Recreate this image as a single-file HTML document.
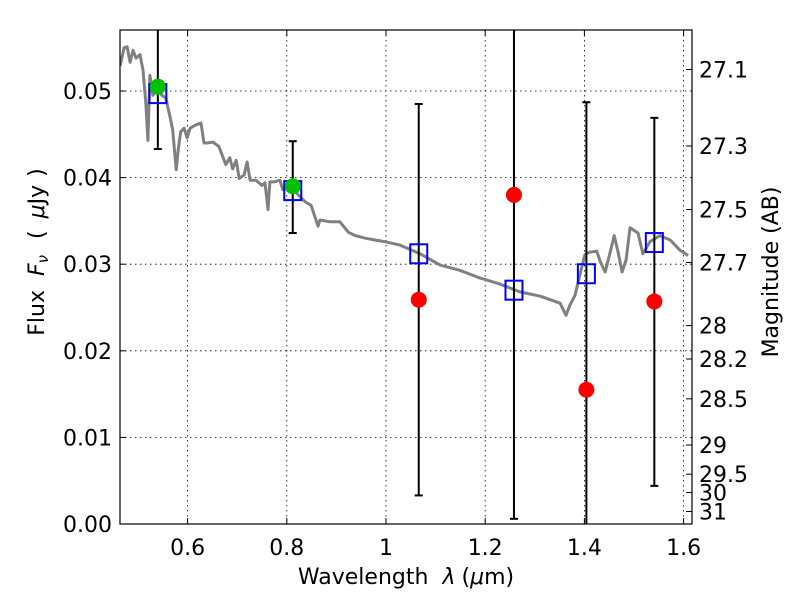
<!DOCTYPE html>
<html><head><meta charset="utf-8"><style>
html,body{margin:0;padding:0;background:#fff;}
svg{display:block;font-family:"DejaVu Sans","Liberation Sans",sans-serif;}
</style></head><body>
<svg id="chart" width="800" height="600" viewBox="0 0 800 600" xmlns="http://www.w3.org/2000/svg">
<defs><clipPath id="pc"><rect x="120" y="30" width="572" height="494"/></clipPath></defs>
<rect width="800" height="600" fill="#fff"/>
<g id="grid"></g>
<g id="spec" clip-path="url(#pc)"></g>
<g id="marks" clip-path="url(#pc)"></g>
<rect x="120" y="30" width="572" height="494" fill="none" stroke="#000" stroke-width="1.2"/>
<g id="axes"></g>
<text x="406" y="584" font-size="22" text-anchor="middle">Wavelength<tspan dx="14" font-style="italic">λ</tspan><tspan dx="6">(</tspan><tspan font-style="italic">μ</tspan>m)</text>
<text transform="translate(44,252) rotate(-90)" font-size="22" text-anchor="middle">Flux<tspan dx="14" font-style="italic">F</tspan><tspan font-style="italic" font-size="15" dy="4">ν</tspan><tspan dy="-4" dx="16">(</tspan><tspan dx="12" font-style="italic">μ</tspan>Jy<tspan dx="8">)</tspan></text>
<text transform="translate(778,272) rotate(-90)" font-size="22" text-anchor="middle">Magnitude (AB)</text>
</svg>
<script>
const xTicks=[0.6,0.8,1.0,1.2,1.4,1.6];
const xTickLabels=["0.6","0.8","1","1.2","1.4","1.6"];
const yTicks=[0,0.01,0.02,0.03,0.04,0.05];
const yTickLabels=["0.00","0.01","0.02","0.03","0.04","0.05"];
const magTicks=[27.1,27.3,27.5,27.7,28,28.2,28.5,29,29.5,30,31];
const magTickLabels=["27.1","27.3","27.5","27.7","28","28.2","28.5","29","29.5","30","31"];
const specWl=[0.464,0.472,0.478,0.484,0.490,0.496,0.504,0.510,0.516,0.520,0.524,0.530,0.540,0.548,0.556,0.565,0.570,0.577,0.581,0.586,0.593,0.599,0.605,0.617,0.627,0.633,0.639,0.651,0.663,0.677,0.685,0.691,0.698,0.704,0.714,0.720,0.726,0.738,0.750,0.756,0.762,0.766,0.774,0.786,0.792,0.806,0.823,0.837,0.849,0.863,0.867,0.887,0.907,0.924,0.938,0.958,0.978,0.998,1.028,1.069,1.109,1.149,1.190,1.230,1.270,1.311,1.351,1.363,1.371,1.381,1.391,1.401,1.411,1.425,1.432,1.442,1.452,1.460,1.468,1.476,1.484,1.492,1.508,1.518,1.532,1.552,1.573,1.593,1.609];
const specFlux=[0.0529,0.0550,0.0551,0.0533,0.0547,0.0538,0.0542,0.0524,0.0485,0.0443,0.0518,0.0495,0.0507,0.0495,0.0492,0.0469,0.0455,0.0409,0.0432,0.0453,0.0457,0.0446,0.0457,0.0461,0.0463,0.0440,0.0440,0.0441,0.0436,0.0415,0.0423,0.0410,0.0420,0.0399,0.0403,0.0418,0.0397,0.0397,0.0391,0.0394,0.0363,0.0395,0.0395,0.0397,0.0386,0.0395,0.0380,0.0372,0.0368,0.0344,0.0351,0.0349,0.0349,0.0337,0.0333,0.0330,0.0328,0.0326,0.0322,0.0312,0.0299,0.0293,0.0284,0.0277,0.0268,0.0263,0.0255,0.0241,0.0253,0.0264,0.0288,0.0311,0.0314,0.0315,0.0303,0.0291,0.0314,0.0333,0.0314,0.0291,0.0305,0.0342,0.0336,0.0312,0.0326,0.0333,0.0328,0.0316,0.0310];
const modelWl=[0.540,0.812,1.066,1.258,1.404,1.541];
const modelFlux=[0.0497,0.0385,0.0312,0.0270,0.0289,0.0325];
const obsWl=[0.540,0.812,1.066,1.258,1.404,1.541];
const obsFlux=[0.0505,0.0390,0.0259,0.0380,0.0155,0.0257];
const obsDetected=[true,true,false,false,false,false];
const errHi=[0.0620,0.0442,0.0485,0.0800,0.0487,0.0469];
const errLo=[0.0433,0.0336,0.0033,0.0006,-0.0100,0.0044];

const X=v=>187.6+(v-0.6)*496;
const Y=v=>524-v*8660;
const NS="http://www.w3.org/2000/svg";
function mk(tag,attrs,parent,txt){const e=document.createElementNS(NS,tag);for(const k in attrs)e.setAttribute(k,attrs[k]);if(txt!=null)e.textContent=txt;parent.appendChild(e);return e;}
const grid=document.getElementById('grid'),axes=document.getElementById('axes'),spec=document.getElementById('spec'),marks=document.getElementById('marks');

xTicks.forEach((t,i)=>{
  const g=mk('line',{x1:X(t),x2:X(t),y1:30,y2:524,stroke:'#000','stroke-width':0.8,'stroke-dasharray':'1.5,3.5'},grid);
  
  
  mk('line',{x1:X(t),x2:X(t),y1:524,y2:518,stroke:'#000'},axes);
  mk('line',{x1:X(t),x2:X(t),y1:30,y2:36,stroke:'#000'},axes);
  const l=mk('text',{x:X(t),y:555,'font-size':22,'text-anchor':'middle'},axes,xTickLabels[i]);
  
  
});
yTicks.forEach((t,i)=>{
  const g=mk('line',{x1:120,x2:692,y1:Y(t),y2:Y(t),stroke:'#000','stroke-width':0.8,'stroke-dasharray':'1.5,3.5'},grid);
  
  
  mk('line',{x1:120,x2:126,y1:Y(t),y2:Y(t),stroke:'#000'},axes);
  const l=mk('text',{x:112,y:Y(t)+8,'font-size':22,'text-anchor':'end'},axes,yTickLabels[i]);
  
  
});
magTicks.forEach((m,i)=>{
  const f=Math.pow(10,(23.9-m)/2.5);
  mk('line',{x1:692,x2:686,y1:Y(f),y2:Y(f),stroke:'#000'},axes);
  const l=mk('text',{x:699,y:Y(f)+8,'font-size':22},axes,magTickLabels[i]);
  
  
});
let d='';
specWl.forEach((w,i)=>{d+=(i?'L':'M')+X(w).toFixed(1)+','+Y(specFlux[i]).toFixed(1);});
mk('path',{d:d,fill:'none',stroke:'#808080','stroke-width':3,'stroke-linejoin':'round'},spec);

obsWl.forEach((w,i)=>{
  const x=X(w);
  const eb=mk('g',{},marks);
  
  
  mk('line',{x1:x,x2:x,y1:Y(errHi[i]),y2:Y(errLo[i]),stroke:'#000','stroke-width':2},eb);
  mk('line',{x1:x-4,x2:x+4,y1:Y(errHi[i]),y2:Y(errHi[i]),stroke:'#000','stroke-width':2},eb);
  mk('line',{x1:x-4,x2:x+4,y1:Y(errLo[i]),y2:Y(errLo[i]),stroke:'#000','stroke-width':2},eb);
});
modelWl.forEach((w,i)=>{
  const r=mk('rect',{x:X(w)-8.5,y:Y(modelFlux[i])-9.5,width:17,height:19,fill:'none',stroke:'#0000ff','stroke-width':2},marks);
  
  
});
obsWl.forEach((w,i)=>{
  const c=mk('circle',{cx:X(w),cy:Y(obsFlux[i]),r:8,fill:obsDetected[i]?'#00c000':'#ff0000'},marks);
  
  
});
</script>
</body></html>
